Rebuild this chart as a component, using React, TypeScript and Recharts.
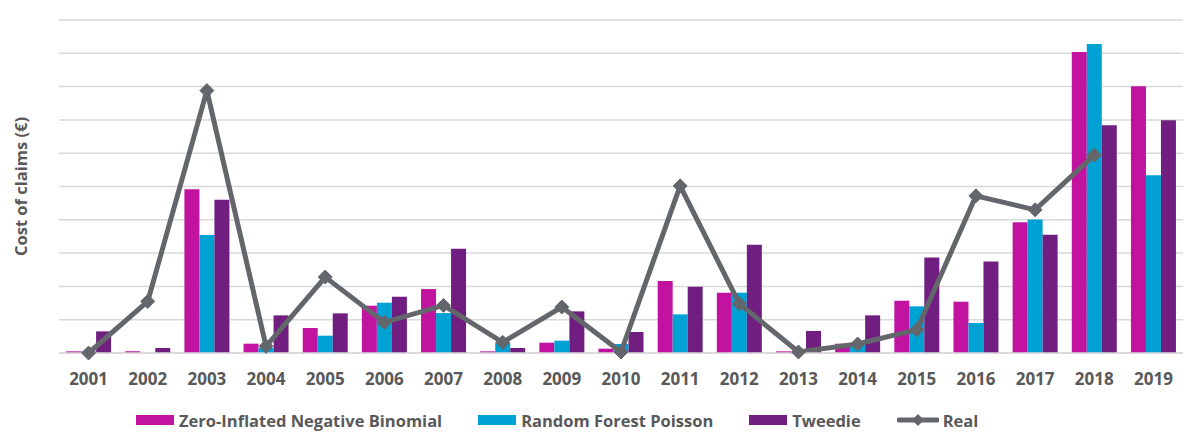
import React from 'react';
import { ComposedChart, Bar, Line, XAxis, YAxis, CartesianGrid, Label } from 'recharts';

const years = ['2001','2002','2003','2004','2005','2006','2007','2008','2009','2010','2011','2012','2013','2014','2015','2016','2017','2018','2019'];
const zinb = [0.05,0.05,4.92,0.28,0.75,1.42,1.92,0.05,0.31,0.13,2.16,1.81,0.05,0.28,1.57,1.54,3.93,9.04,8.01];
const rfp = [0.05,0,3.54,0.15,0.52,1.51,1.2,0.3,0.37,0.27,1.16,1.81,0,0.25,1.4,0.9,4.01,9.28,5.34];
const tweedie = [0.65,0.15,4.6,1.13,1.19,1.69,3.13,0.15,1.25,0.63,1.99,3.25,0.66,1.13,2.87,2.75,3.55,6.84,6.99];
const real: (number | null)[] = [0.0,1.55,7.88,0.2,2.28,0.92,1.43,0.32,1.38,0.03,5.02,1.48,0.03,0.27,0.7,4.72,4.3,5.94,null];
const yTicks = [0,1,2,3,4,5,6,7,8,9,10];

const seriesNames = ['Zero-Inflated Negative Binomial', 'Random Forest Poisson', 'Tweedie', 'Real'];
const C_ZINB = '#C1139F';
const C_RFP = '#00A1D3';
const C_TW = '#701F81';
const C_REAL = '#63666A';
const TEXT = '#595959';
const FONT = '"Open Sans", sans-serif';

const data = years.map((y, i) => ({ year: y, zinb: zinb[i], rfp: rfp[i], tweedie: tweedie[i], real: real[i] }));

const Diamond = (props: any) => {
  const { cx, cy, value } = props;
  if (value === null || value === undefined || cx == null || cy == null) return null;
  const r = 7;
  return <polygon points={`${cx},${cy - r} ${cx + r},${cy} ${cx},${cy + r} ${cx - r},${cy}`} fill={C_REAL} stroke={C_REAL} />;
};

const XTick = (props: any) => {
  const { x, y, payload } = props;
  return (
    <text x={x} y={y + 17} textAnchor="middle" dominantBaseline="central" fill={TEXT}
      style={{ fontFamily: FONT, fontWeight: 700, fontSize: 17 }}>{payload.value}</text>
  );
};

const EmptyTick = () => <g />;

const YLabel = (props: any) => {
  const vb = props.viewBox || {};
  const cy = (vb.y ?? 20) + (vb.height ?? 333) / 2;
  return (
    <text x={20} y={cy} textAnchor="middle" dominantBaseline="central" fill={TEXT}
      transform={`rotate(-90 20 ${cy})`} style={{ fontFamily: FONT, fontWeight: 700, fontSize: 16.5 }}>
      Cost of claims (€)
    </text>
  );
};

const Swatch = ({ color }: { color: string }) => (
  <span style={{ display: 'inline-block', width: 38, height: 10, background: color, marginRight: 5 }} />
);

const LineSwatch = () => (
  <svg width={42} height={14} style={{ marginRight: 4 }}>
    <line x1={2} y1={7} x2={40} y2={7} stroke={C_REAL} strokeWidth={5} strokeLinecap="round" />
    <polygon points="21,1 27,7 21,13 15,7" fill={C_REAL} />
  </svg>
);

export default function App() {
  const itemStyle: React.CSSProperties = { display: 'flex', alignItems: 'center', marginRight: 36 };
  return (
    <div style={{ position: 'absolute', left: 0, top: 0, width: 1196, height: 447, background: '#fff' }}>
      <ComposedChart width={1196} height={447} data={data}
        margin={{ top: 20, right: 13, left: 0, bottom: 64 }} barCategoryGap="12%" barGap={0}>
        <CartesianGrid vertical={false} stroke="#D9D9D9" strokeWidth={1.5} />
        <XAxis dataKey="year" axisLine={{ stroke: '#D9D9D9', strokeWidth: 1.5 }} tickLine={false} tick={<XTick />} height={30} interval={0} />
        <YAxis domain={[0, 10]} ticks={yTicks} tick={<EmptyTick />} axisLine={false} tickLine={false} width={59}>
          <Label content={<YLabel />} />
        </YAxis>
        <Bar dataKey="zinb" name={seriesNames[0]} fill={C_ZINB} isAnimationActive={false} />
        <Bar dataKey="rfp" name={seriesNames[1]} fill={C_RFP} isAnimationActive={false} />
        <Bar dataKey="tweedie" name={seriesNames[2]} fill={C_TW} isAnimationActive={false} />
        <Line dataKey="real" name={seriesNames[3]} stroke={C_REAL} strokeWidth={5} dot={<Diamond />} activeDot={false}
          isAnimationActive={false} connectNulls={false} strokeLinejoin="miter" />
      </ComposedChart>
      <div style={{ position: 'absolute', left: 136, top: 409, height: 22, display: 'flex', alignItems: 'center',
        fontFamily: FONT, fontWeight: 700, fontSize: 16.5, color: TEXT, whiteSpace: 'nowrap' }}>
        <div style={itemStyle}><Swatch color={C_ZINB} />{seriesNames[0]}</div>
        <div style={itemStyle}><Swatch color={C_RFP} />{seriesNames[1]}</div>
        <div style={itemStyle}><Swatch color={C_TW} />{seriesNames[2]}</div>
        <div style={{ ...itemStyle, marginRight: 0 }}><LineSwatch />{seriesNames[3]}</div>
      </div>
    </div>
  );
}
